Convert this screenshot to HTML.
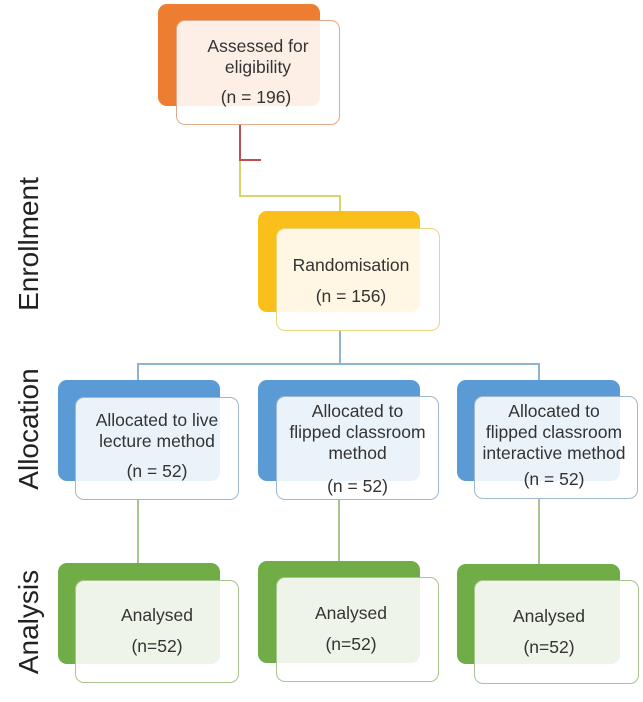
<!DOCTYPE html>
<html><head><style>
body{margin:0;width:643px;height:690px;background:#fff;position:relative;overflow:hidden;font-family:"Liberation Sans",sans-serif;}
.b{position:absolute;border-radius:9px;}
.f{position:absolute;border-radius:9px;border:1.5px solid;box-sizing:border-box;background:rgba(255,255,255,0.88);}
.t{position:absolute;text-align:center;color:#333;font-size:17.5px;line-height:21px;}
.l{position:absolute;background:#9ab;}
.side{position:absolute;font-size:28px;color:#222;transform:rotate(-90deg);transform-origin:center;white-space:nowrap;width:160px;text-align:center;}
</style></head><body>
<div class="l" style="left:239px;top:125px;width:2px;height:36px;background:#c0504d"></div>
<div class="l" style="left:239px;top:159px;width:22px;height:2px;background:#c0504d"></div>
<div class="l" style="left:239px;top:161px;width:2px;height:36px;background:#d8d36a"></div>
<div class="l" style="left:239px;top:195px;width:102px;height:2px;background:#d8d36a"></div>
<div class="l" style="left:339px;top:195px;width:2px;height:17px;background:#d8d36a"></div>
<div class="l" style="left:339px;top:331px;width:2px;height:34px;background:#8fb3d3"></div>
<div class="l" style="left:137px;top:363px;width:403px;height:2px;background:#8fb3d3"></div>
<div class="l" style="left:137px;top:363px;width:2px;height:18px;background:#8fb3d3"></div>
<div class="l" style="left:538px;top:363px;width:2px;height:18px;background:#8fb3d3"></div>
<div class="l" style="left:137px;top:500px;width:2px;height:64px;background:#a9c48f"></div>
<div class="l" style="left:338px;top:500px;width:2px;height:62px;background:#a9c48f"></div>
<div class="l" style="left:538px;top:499px;width:2px;height:66px;background:#a9c48f"></div>

<div class="b" style="left:158px;top:4px;width:162px;height:102px;background:#ed7d31"></div>
<div class="f" style="left:176px;top:20px;width:164px;height:105px;border-color:#e2a98a"></div>
<div class="t" style="left:176px;top:36px;width:164px">Assessed for<br>eligibility</div>
<div class="t" style="left:176px;top:87px;width:160px">(n = 196)</div>

<div class="b" style="left:258px;top:211px;width:162px;height:101px;background:#fbbf1c"></div>
<div class="f" style="left:276px;top:228px;width:164px;height:103px;border-color:#e8d680"></div>
<div class="t" style="left:276px;top:255px;width:150px">Randomisation</div>
<div class="t" style="left:276px;top:286px;width:150px">(n = 156)</div>

<div class="b" style="left:58px;top:380px;width:162px;height:101px;background:#5b9bd5"></div>
<div class="f" style="left:75px;top:397px;width:164px;height:103px;border-color:#9db8d0"></div>
<div class="t" style="left:75px;top:410px;width:164px">Allocated to live<br>lecture method</div>
<div class="t" style="left:75px;top:461px;width:164px">(n = 52)</div>

<div class="b" style="left:258px;top:380px;width:162px;height:101px;background:#5b9bd5"></div>
<div class="f" style="left:276px;top:396px;width:163px;height:104px;border-color:#9db8d0"></div>
<div class="t" style="left:276px;top:401px;width:163px">Allocated to<br>flipped classroom<br>method</div>
<div class="t" style="left:276px;top:476px;width:163px">(n = 52)</div>

<div class="b" style="left:457px;top:380px;width:163px;height:101px;background:#5b9bd5"></div>
<div class="f" style="left:474px;top:396px;width:164px;height:103px;border-color:#9db8d0"></div>
<div class="t" style="left:472px;top:401px;width:164px">Allocated to<br>flipped classroom<br>interactive method</div>
<div class="t" style="left:474px;top:469px;width:160px">(n = 52)</div>

<div class="b" style="left:58px;top:563px;width:162px;height:101px;background:#70ad47"></div>
<div class="f" style="left:75px;top:580px;width:164px;height:103px;border-color:#a9c48f"></div>
<div class="t" style="left:75px;top:605px;width:164px">Analysed</div>
<div class="t" style="left:75px;top:636px;width:164px">(n=52)</div>

<div class="b" style="left:258px;top:561px;width:162px;height:102px;background:#70ad47"></div>
<div class="f" style="left:276px;top:577px;width:163px;height:105px;border-color:#a9c48f"></div>
<div class="t" style="left:276px;top:603px;width:150px">Analysed</div>
<div class="t" style="left:276px;top:634px;width:150px">(n=52)</div>

<div class="b" style="left:457px;top:564px;width:163px;height:100px;background:#70ad47"></div>
<div class="f" style="left:474px;top:580px;width:165px;height:104px;border-color:#a9c48f"></div>
<div class="t" style="left:474px;top:606px;width:150px">Analysed</div>
<div class="t" style="left:474px;top:637px;width:150px">(n=52)</div>

<div class="side" style="left:-51px;top:228px">Enrollment</div>
<div class="side" style="left:-51px;top:413px">Allocation</div>
<div class="side" style="left:-51px;top:606px">Analysis</div>
</body></html>
